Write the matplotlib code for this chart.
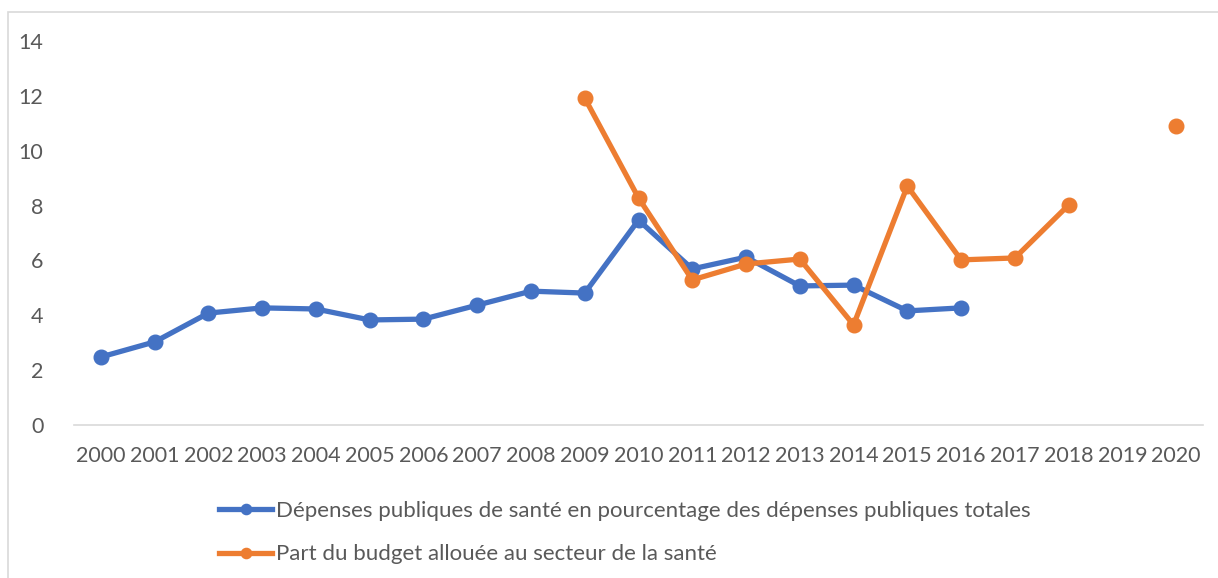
import numpy as np
import matplotlib.pyplot as plt
from matplotlib.patches import Rectangle

plt.rcParams['font.family'] = ['Lato', 'DejaVu Sans']

annees = [str(a) for a in range(2000, 2021)]
depenses_sante = [2.48, 3.03, 4.08, 4.27, 4.23, 3.83, 3.86, 4.37, 4.88, 4.81,
                  7.47, 5.69, 6.12, 5.07, 5.10, 4.16, 4.27,
                  np.nan, np.nan, np.nan, np.nan]
part_budget = [np.nan] * 9 + [11.92, 8.28, 5.29, 5.87, 6.05, 3.65, 8.71,
                               6.02, 6.09, 8.02, np.nan, 10.9]

bleu = '#4472C4'
orange = '#ED7D31'
gris = '#595959'

fig = plt.figure(figsize=(12.18, 5.78), dpi=100)
fig.patches.append(Rectangle((8 / 1218, -0.1), 1.2, 1 - 12 / 578 + 0.1,
                             transform=fig.transFigure, fill=False,
                             edgecolor='#D9D9D9', linewidth=1.2))
ax = fig.add_axes([74 / 1218, 1 - 425 / 578, 1129 / 1218, 384 / 578])

x = np.arange(len(annees))
ax.plot(x, depenses_sante, color=bleu, linewidth=3.8, marker='o',
        markersize=10.5, label='Dépenses publiques de santé en pourcentage des dépenses publiques totales')
ax.plot(x, part_budget, color=orange, linewidth=3.8, marker='o',
        markersize=10.5, label='Part du budget allouée au secteur de la santé')

ax.set_xlim(-0.5, len(annees) - 0.5)
ax.set_ylim(0, 14)
ax.set_yticks(range(0, 15, 2))
ax.set_xticks(x)
ax.set_xticklabels(annees)
for s in ['top', 'right', 'left']:
    ax.spines[s].set_visible(False)
ax.spines['bottom'].set_color('#D9D9D9')
ax.spines['bottom'].set_linewidth(1.2)
ax.tick_params(length=0, labelsize=15.5, labelcolor=gris)
ax.tick_params(axis='x', pad=15)
ax.tick_params(axis='y', pad=22)

fig.legend(loc='upper left', bbox_to_anchor=(199 / 1218, 1 - 481 / 578),
           frameon=False, fontsize=16, labelcolor=gris, handlelength=2.4,
           handletextpad=0.15, labelspacing=1.05, markerscale=0.7)

fig.savefig('out.png', dpi=100)
